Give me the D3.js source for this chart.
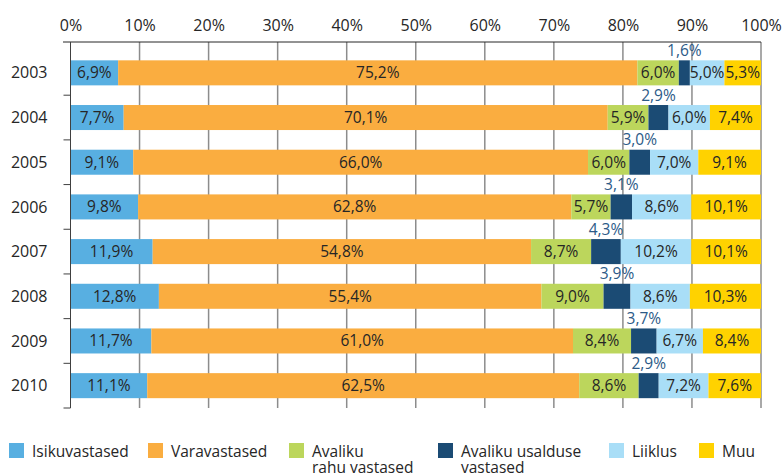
<!DOCTYPE html>
<html>
<head>
<meta charset="utf-8">
<script src="https://cdn.jsdelivr.net/npm/d3@7"></script>
<style>
    body { margin: 0; background: #fff; }
    text { font-family: "Open Sans", sans-serif; fill: #262626; }
    .grid line { stroke: #8c8c8c; stroke-width: 1.5; }
    .x.axis path { stroke: #262626; }
    .x.axis line { display: none; }
    .y.axis path { stroke: #404040; }
    .y.axis line { stroke: #404040; }
</style>
</head>
<body>
<svg class="chart"></svg>
<script>
var years = ["2003", "2004", "2005", "2006", "2007", "2008", "2009", "2010"];
var seriesKeys = ["isik", "vara", "rahu", "usaldus", "liiklus", "muu"];
var seriesNames = [["Isikuvastased"], ["Varavastased"], ["Avaliku", "rahu vastased"],
                   ["Avaliku usalduse", "vastased"], ["Liiklus"], ["Muu"]];
var seriesColors = ["#58afe1", "#faad40", "#bcd65c", "#1b4b74", "#a9def7", "#ffd200"];

var isikuvastased  = [6.9, 7.7, 9.1, 9.8, 11.9, 12.8, 11.7, 11.1];
var varavastased   = [75.2, 70.1, 66.0, 62.8, 54.8, 55.4, 61.0, 62.5];
var avalikuRahu    = [6.0, 5.9, 6.0, 5.7, 8.7, 9.0, 8.4, 8.6];
var avalikuUsaldus = [1.6, 2.9, 3.0, 3.1, 4.3, 3.9, 3.7, 2.9];
var liiklus        = [5.0, 6.0, 7.0, 8.6, 10.2, 8.6, 6.7, 7.2];
var muu            = [5.3, 7.4, 9.1, 10.1, 10.1, 10.3, 8.4, 7.6];

var tickValues = [0, 0.1, 0.2, 0.3, 0.4, 0.5, 0.6, 0.7, 0.8, 0.9, 1];

var columns = [isikuvastased, varavastased, avalikuRahu, avalikuUsaldus, liiklus, muu];
var data = years.map(function(y, i) {
    var row = { year: y };
    seriesKeys.forEach(function(k, j) { row[k] = columns[j][i]; });
    return row;
});

var width = 783, height = 475;
var plotLeft = 70.5, plotRight = 761, axisY = 42, bandTop = 50.5, plotBottom = 408;

var svg = d3.select(".chart")
    .attr("width", width)
    .attr("height", height);

var x = d3.scaleLinear().domain([0, 1]).range([plotLeft, plotRight]);
var y = d3.scaleBand().domain(years).range([bandTop, plotBottom])
    .paddingInner(0.44).paddingOuter(0.22);

function pct(v) { return d3.format(".1f")(v).replace(".", ",") + "%"; }

// vertical gridlines
svg.append("g")
    .attr("class", "grid")
    .selectAll("line")
    .data(tickValues.slice(1))
    .enter().append("line")
    .attr("x1", function(d) { return x(d); })
    .attr("x2", function(d) { return x(d); })
    .attr("y1", axisY)
    .attr("y2", plotBottom);

// stacked bars (100%)
var stack = d3.stack().keys(seriesKeys).offset(d3.stackOffsetExpand);
var layers = stack(data);

var layer = svg.selectAll("g.layer")
    .data(layers)
    .enter().append("g")
    .attr("class", "layer")
    .attr("fill", function(d, i) { return seriesColors[i]; });

layer.selectAll("rect")
    .data(function(d) { return d; })
    .enter().append("rect")
    .attr("x", function(d) { return x(d[0]); })
    .attr("y", function(d) { return y(d.data.year); })
    .attr("width", function(d) { return x(d[1]) - x(d[0]); })
    .attr("height", y.bandwidth());

// value labels, the dark blue ones sit above the bar
layers.forEach(function(l, i) {
    var outside = seriesKeys[i] === "usaldus";
    svg.append("g").selectAll("text")
        .data(l)
        .enter().append("text")
        .attr("x", function(d) { return (x(d[0]) + x(d[1])) / 2; })
        .attr("y", function(d) {
            return outside ? y(d.data.year) - 4.5 : y(d.data.year) + y.bandwidth() / 2;
        })
        .attr("dy", outside ? 0 : "0.35em")
        .attr("text-anchor", "middle")
        .style("font-size", "15.5px")
        .style("fill", outside ? "#2c5a87" : "#262626")
        .text(function(d) { return pct(d.data[l.key]); });
});

// axes
var xAxis = d3.axisTop(x)
    .tickValues(tickValues)
    .tickSize(0)
    .tickPadding(11)
    .tickFormat(d3.format(".0%"));

svg.append("g")
    .attr("class", "x axis")
    .attr("transform", "translate(0," + axisY + ")")
    .call(xAxis)
    .call(function(g) { g.select(".domain").attr("d", "M" + (plotLeft - 7.5) + ",0H" + plotRight); })
    .selectAll("text")
    .style("font-size", "16px")
    .style("fill", "#262626");

// category axis
var yAxisG = svg.append("g").attr("class", "y axis");
yAxisG.append("path")
    .attr("d", "M" + plotLeft + "," + axisY + "V" + plotBottom)
    .attr("fill", "none");
yAxisG.selectAll("line")
    .data(years.slice(1).concat(["end"]))
    .enter().append("line")
    .attr("x1", plotLeft - 7)
    .attr("x2", plotLeft)
    .attr("y1", function(d) { return d === "end" ? plotBottom : y(d) - y.step() * 0.22; })
    .attr("y2", function(d) { return d === "end" ? plotBottom : y(d) - y.step() * 0.22; });
yAxisG.selectAll("text")
    .data(years)
    .enter().append("text")
    .attr("x", plotLeft - 23)
    .attr("y", function(d) { return y(d) + y.bandwidth() / 2; })
    .attr("dy", "0.35em")
    .attr("text-anchor", "end")
    .style("font-size", "16px")
    .text(function(d) { return d; });

// legend
var legendX = [9, 148, 289, 438, 609, 699];
var legend = svg.selectAll("g.legend")
    .data(seriesNames)
    .enter().append("g")
    .attr("class", "legend")
    .attr("transform", function(d, i) { return "translate(" + legendX[i] + ",443)"; });

legend.append("rect")
    .attr("width", 15)
    .attr("height", 15)
    .attr("fill", function(d, i) { return seriesColors[i]; });

legend.append("text")
    .attr("x", 23)
    .attr("y", 13.5)
    .style("font-size", "15.5px")
    .selectAll("tspan")
    .data(function(d) { return d; })
    .enter().append("tspan")
    .attr("x", 23)
    .attr("dy", function(d, i) { return i ? 16.5 : 0; })
    .text(function(d) { return d; });
</script>
</body>
</html>
